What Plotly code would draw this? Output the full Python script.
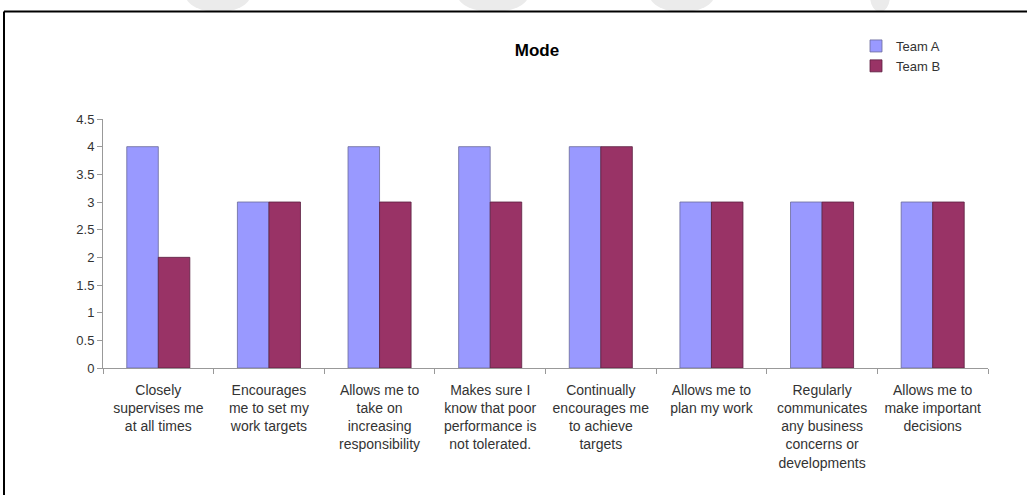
import plotly.graph_objects as go

categories = [
    "Closely<br>supervises me<br>at all times",
    "Encourages<br>me to set my<br>work targets",
    "Allows me to<br>take on<br>increasing<br>responsibility",
    "Makes sure I<br>know that poor<br>performance is<br>not tolerated.",
    "Continually<br>encourages me<br>to achieve<br>targets",
    "Allows me to<br>plan my work",
    "Regularly<br>communicates<br>any business<br>concerns or<br>developments",
    "Allows me to<br>make important<br>decisions",
]
team_a = [4, 3, 4, 4, 4, 3, 3, 3]
team_b = [2, 3, 3, 3, 4, 3, 3, 3]
y_ticks = [0, 0.5, 1, 1.5, 2, 2.5, 3, 3.5, 4, 4.5]
y_tick_text = ["0", "0.5", "1", "1.5", "2", "2.5", "3", "3.5", "4", "4.5"]

W, H = 1027, 495
L, R, T, B = 103, 39, 119, 127
PW, PH = W - L - R, H - T - B

def px(x):
    return (x - L) / PW

def py(y):
    return (H - B - y) / PH

FONT = "Liberation Sans, Arial, sans-serif"

fig = go.Figure()
fig.add_trace(go.Bar(name="Team A", x=categories, y=team_a,
                     marker=dict(color="#9999FF", line=dict(color="#6a6a9a", width=0.8))))
fig.add_trace(go.Bar(name="Team B", x=categories, y=team_b,
                     marker=dict(color="#993366", line=dict(color="#5a2040", width=0.8))))

shapes = []
# faint watermark blobs at the top
for cx, rx in [(218, 32), (493, 35), (682, 32), (880, 10)]:
    shapes.append(dict(type="circle", xref="paper", yref="paper",
                       x0=px(cx - rx), x1=px(cx + rx), y0=py(12), y1=py(-20),
                       fillcolor="#ebebeb", line=dict(width=0), layer="below"))
# frame lines (top and left)
shapes.append(dict(type="line", xref="paper", yref="paper",
                   x0=px(4), x1=px(1040), y0=py(11.5), y1=py(11.5),
                   line=dict(color="black", width=2)))
shapes.append(dict(type="line", xref="paper", yref="paper",
                   x0=px(4), x1=px(4), y0=py(11.5), y1=py(510),
                   line=dict(color="black", width=2)))

fig.update_layout(
    width=W, height=H,
    margin=dict(l=L, r=R, t=T, b=B, autoexpand=False),
    paper_bgcolor="white", plot_bgcolor="white",
    barmode="group", bargap=0.43, bargroupgap=0,
    font=dict(family=FONT, size=13, color="#333333"),
    title=dict(text="<b>Mode</b>", x=px(537), xref="paper", xanchor="center",
               y=1 - 50 / H, yanchor="middle",
               font=dict(family=FONT, size=17, color="black")),
    legend=dict(x=px(856), y=py(31), xanchor="left", yanchor="top",
                font=dict(family=FONT, size=13, color="#333333"),
                bgcolor="rgba(0,0,0,0)", itemwidth=30, tracegroupgap=0),
    shapes=shapes,
    xaxis=dict(showline=True, linecolor="#999999", linewidth=1,
               ticks="outside", ticklen=5, tickcolor="#999999",
               tickson="boundaries", showgrid=False, ticklabelstandoff=9,
               tickfont=dict(family=FONT, size=14, color="#333333"),
               tickangle=0),
    yaxis=dict(range=[0, 4.5], tickvals=y_ticks, ticktext=y_tick_text,
               showline=True, linecolor="#999999", linewidth=1,
               ticks="outside", ticklen=5, tickcolor="#999999",
               showgrid=False, zeroline=False,
               tickfont=dict(family=FONT, size=13, color="#333333")),
)

fig.write_html("out.html")
